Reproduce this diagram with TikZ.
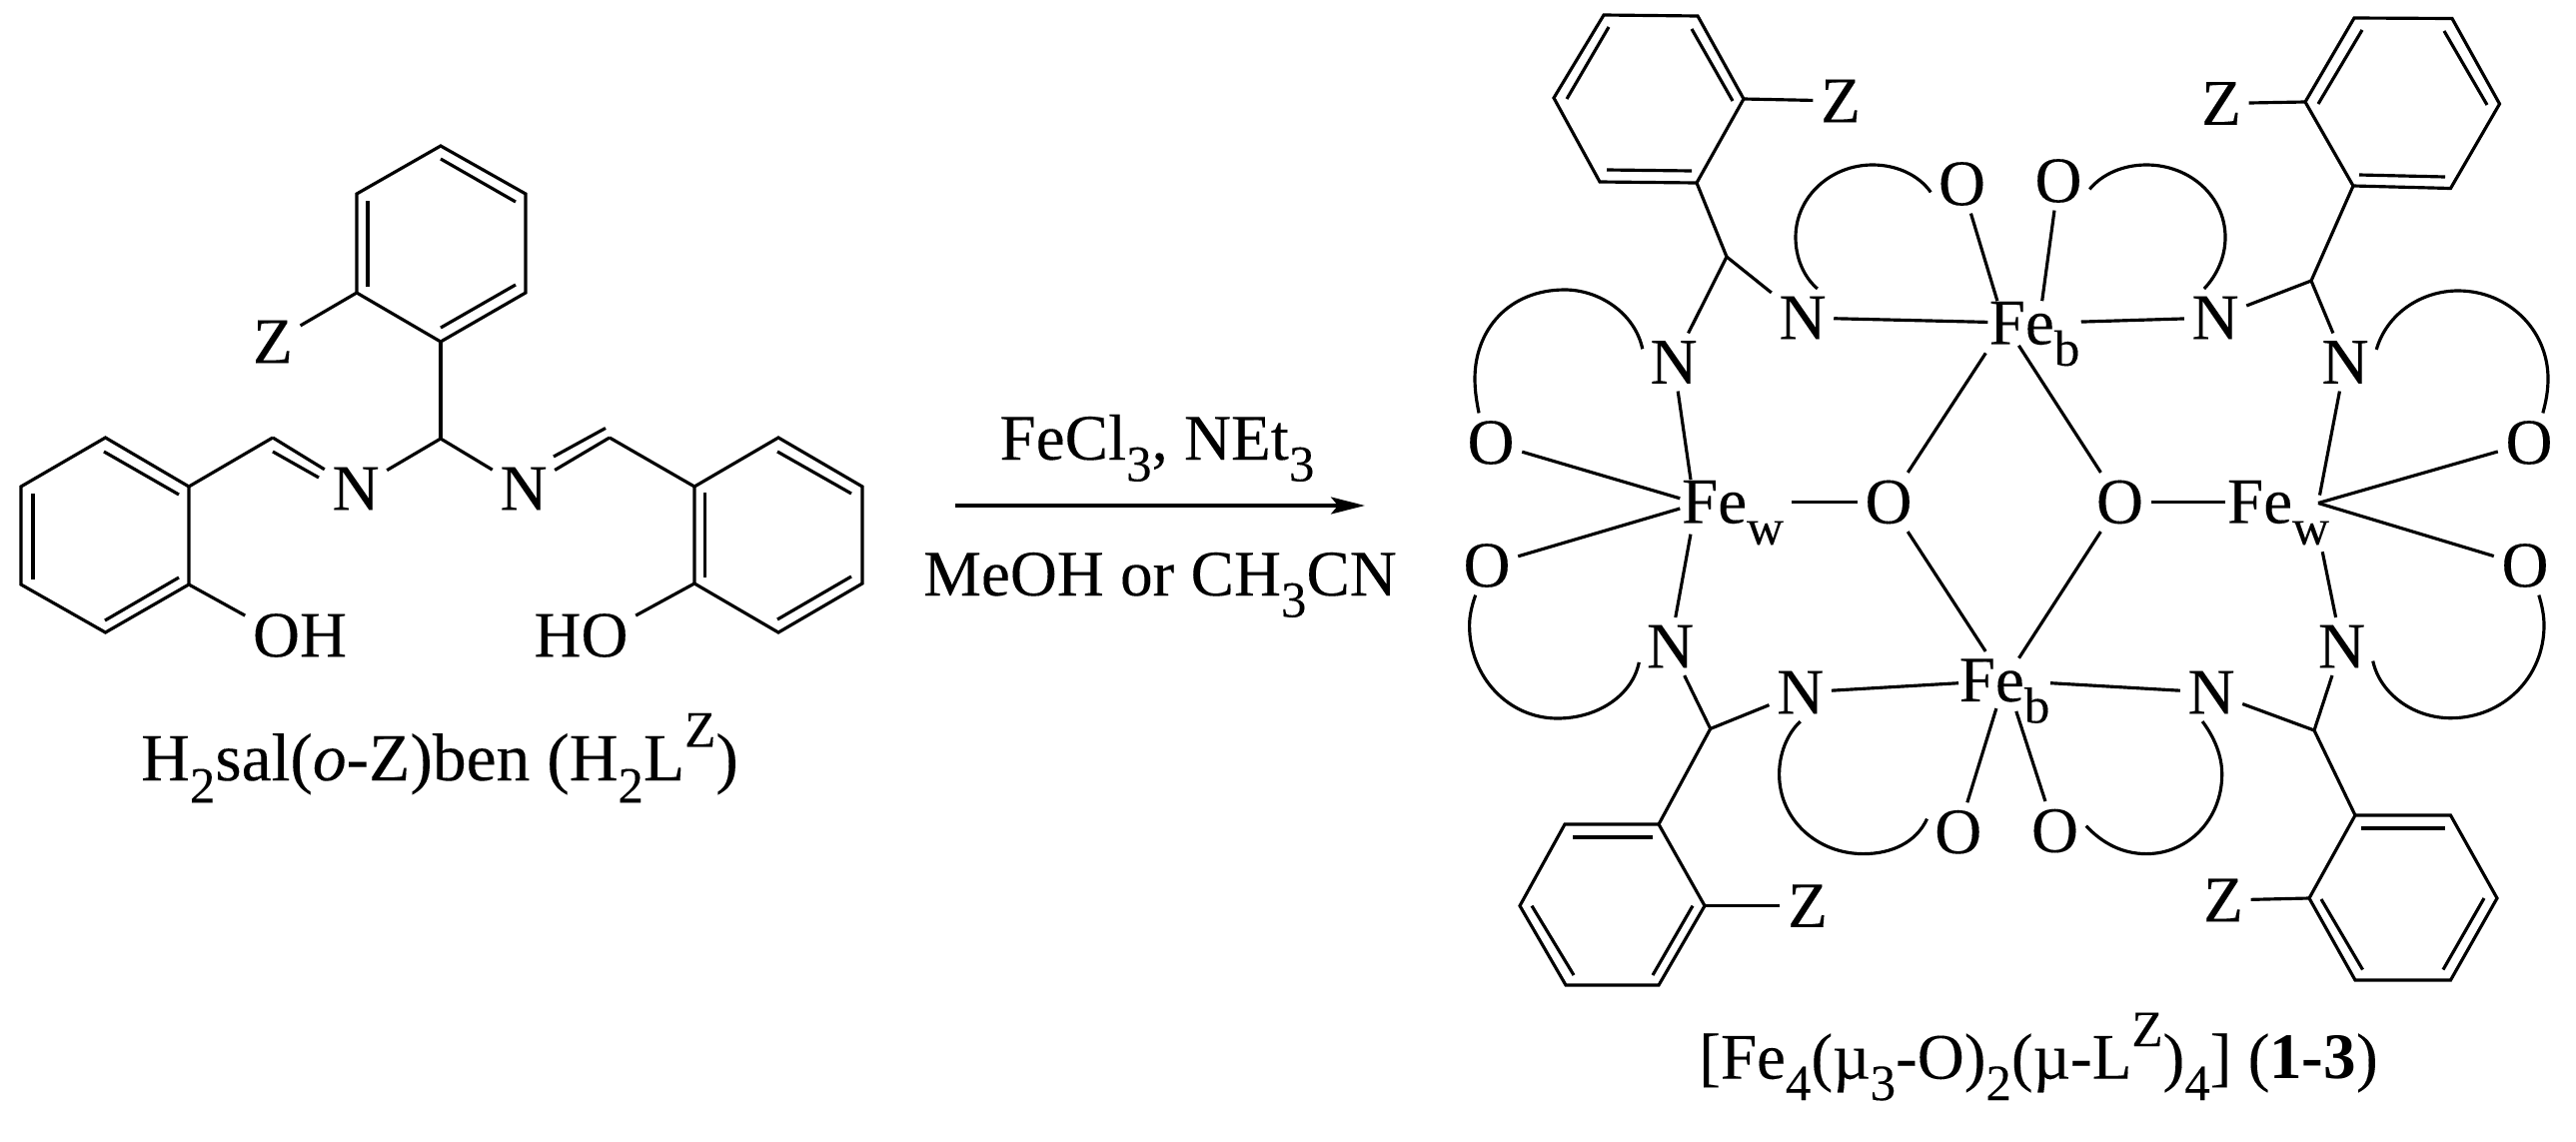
\documentclass[tikz,border=0pt]{standalone}
\usepackage{fontspec}
\setmainfont{Liberation Serif}[FakeBold=0.12, BoldFeatures={FakeBold=0}]
\usetikzlibrary{arrows.meta}
\newcommand{\sbs}[1]{\raisebox{-0.33em}[0pt][0pt]{\fontsize{14.5}{15}\selectfont #1}}
\newcommand{\sps}[1]{\raisebox{0.5em}[0pt][0pt]{\fontsize{14.5}{15}\selectfont #1}}
\tikzstyle{bond} = [draw, line width=0.9pt]
\tikzstyle{inner} = [draw, line width=0.9pt]
\tikzstyle{atom} = [inner sep=2pt, font=\fontsize{18.5}{22}\selectfont]
\tikzstyle{fe} = [inner sep=0pt, align=center, font=\fontsize{18.5}{22}\selectfont]
\tikzstyle{label} = [inner sep=0pt, anchor=base, font=\fontsize{18.5}{22}\selectfont]
\tikzstyle{line} = [draw, line width=0.9pt, -{Stealth[length=3.4mm,width=1.7mm,inset=0.7mm]}]

\begin{document}
\begin{tikzpicture}[x=0.01cm, y=-0.01cm]
	\useasboundingbox (0, 0) rectangle (2578, 1142);

	% free ligand
	\node[atom] (Nl) at (356, 489) {N};
	\node[atom] (Nr) at (524, 489) {N};
	\node[atom] (Zl) at (273, 342) {Z};
	\node[atom] (OHl) at (300, 636) {OH};
	\node[atom] (OHr) at (581.5, 636) {HO};
	\coordinate (Cc) at (441, 439);
	\coordinate (Cl) at (273, 438);
	\coordinate (Cr) at (610, 438);

	\draw[bond] (441, 146) -- (526, 194) -- (526, 293) -- (441, 342) coordinate (Rt) -- (357, 293) coordinate (Rz) -- (357, 194) -- cycle;
	\draw[inner] (441, 159) -- (516, 202);
	\draw[inner] (368, 201) -- (368, 287);
	\draw[inner] (516, 285) -- (441, 328);
	\draw[bond] (21, 487) -- (105.5, 438) -- (189, 487) coordinate (La) -- (189, 585) coordinate (Lb) -- (105.5, 633) -- (21, 585) -- cycle;
	\draw[inner] (104, 452) -- (179, 495);
	\draw[inner] (33, 494) -- (33, 580);
	\draw[inner] (105, 621) -- (179, 578);
	\draw[bond] (695, 487) coordinate (Ra) -- (779, 438) -- (863, 487) -- (863, 584) -- (779, 633) -- (695, 584) coordinate (Rb) -- cycle;
	\draw[inner] (705.5, 493) -- (705.5, 578);
	\draw[inner] (778, 452) -- (852, 494);
	\draw[inner] (852, 577) -- (778, 620);

	\draw[bond] (Rt) -- (Cc);
	\draw[bond] (Rz) -- (Zl);
	\draw[bond] (Nl) -- (Cc);
	\draw[bond] (Nr) -- (Cc);
	\draw[bond] (La) -- (Cl);
	\draw[bond] (Cl) -- (Nl);
	\draw[inner] (273, 452) -- (319, 478);
	\draw[bond] (Ra) -- (Cr);
	\draw[bond] (Cr) -- (Nr);
	\draw[inner] (606, 428.5) -- (554, 457);
	\draw[bond] (Lb) -- (OHl.160);
	\draw[bond] (Rb) -- (OHr.20);
	\node[label, font=\fontsize{19.2}{22}\selectfont] (capl) at (440, 781) {H\sbs{2}sal(\textit{o}-Z)ben (H\sbs{2}L\sps{Z})};

	% reaction arrow
	\node[label] (top) at (1158, 460) {FeCl\sbs{3}, NEt\sbs{3}};
	\node[label] (bot) at (1161, 596) {MeOH or CH\sbs{3}CN};
	\coordinate (as) at (956, 506);
	\coordinate (ae) at (1366, 506);
	\path [line] (as) -- (ae);

	% cluster core
	\node[fe, minimum width=1.04cm] (FewL) at (1734, 502.5) {Fe\sbs{w}};
	\node[fe, minimum width=1.04cm] (FewR) at (2280, 502.5) {Fe\sbs{w}};
	\node[fe, minimum width=0.92cm] (FebT) at (2036, 323.5) {Fe\sbs{b}};
	\node[fe, minimum width=0.89cm] (FebB) at (2006, 681) {Fe\sbs{b}};
	\node[atom] (OcL) at (1890, 502.5) {O};
	\node[atom] (OcR) at (2121.5, 502.5) {O};
	\coordinate (vtx) at (2320, 503.5);

	\draw[bond, shorten <=0.6mm] (FewL) -- (OcL);
	\draw[bond] (OcR) -- (FewR);
	\draw[bond, shorten >=0.9mm] (OcL) -- (FebT.207);
	\draw[bond] (OcR) -- (FebT.235);
	\draw[bond, shorten >=0.8mm] (OcL) -- (FebB.123);
	\draw[bond] (OcR) -- (FebB.57);

	% top left
	\node[atom] (Na) at (1804, 318) {N};
	\node[atom] (Nb) at (1675, 362.5) {N};
	\node[atom] (Oa) at (1963.5, 184) {O};
	\node[atom] (Ob) at (1492, 443) {O};
	\node[atom] (Za) at (1842, 101) {Z};
	\coordinate (Ca) at (1728, 257);
	\draw[bond] (1605, 15) -- (1699, 16) -- (1745, 99) coordinate (Ra1) -- (1698, 183) coordinate (Ra2) -- (1601, 182) -- (1555, 98) -- cycle;
	\draw[inner] (1610, 27) -- (1568, 99);
	\draw[inner] (1693, 29) -- (1734, 101);
	\draw[inner] (1608, 170) -- (1693, 171);
	\draw[bond] (Ra1) -- (Za);
	\draw[bond] (Ra2) -- (Ca);
	\draw[bond] (Ca) -- (Na);
	\draw[bond] (Ca) -- (Nb);
	\draw[bond] (Na) -- (FebT);
	\draw[bond] (Oa) -- (FebT.149);
	\draw[bond] (Nb) -- (FewL.152);
	\draw[bond] (Ob) -- (FewL.176);
	\draw[bond] (Na.63) .. controls (1805, 277) and (1797, 258) .. (1797, 237.5) .. controls (1797, 197) and (1832, 165) .. (1874, 165) .. controls (1898, 165) and (1920, 175) .. (Oa.195);
	\draw[bond] (Nb.157) .. controls (1636, 313) and (1600, 290) .. (1566, 290) .. controls (1510, 290) and (1476, 330) .. (1476, 379) .. controls (1476, 392) and (1478, 403) .. (Ob.112);

	% top right
	\node[atom] (Nc) at (2217, 318) {N};
	\node[atom] (Nd) at (2347, 362.5) {N};
	\node[atom] (Oc) at (2060, 181) {O};
	\node[atom] (Od) at (2531, 443) {O};
	\node[atom] (Zb) at (2223, 103.5) {Z};
	\coordinate (Cb) at (2313, 281);
	\draw[bond] (2356, 18) -- (2454, 18.5) -- (2501.5, 104) -- (2452.5, 188.5) -- (2355, 186) coordinate (Rb2) -- (2307, 102) coordinate (Rb1) -- cycle;
	\draw[inner] (2364, 30) -- (2320, 104);
	\draw[inner] (2446, 31) -- (2489, 105);
	\draw[inner] (2361, 175) -- (2447, 177);
	\draw[bond] (Rb1) -- (Zb);
	\draw[bond] (Rb2) -- (Cb);
	\draw[bond] (Cb) -- (Nc);
	\draw[bond] (Cb) -- (Nd);
	\draw[bond] (FebT) -- (Nc);
	\draw[bond] (Oc) -- (FebT.71);
	\draw[bond, shorten >=0.8mm] (Nd) -- (vtx);
	\draw[bond] (Od) -- (vtx);
	\draw[bond] (Nc.111) .. controls (2219, 275) and (2227, 257) .. (2227, 237.5) .. controls (2227, 197) and (2192, 165) .. (2148, 165) .. controls (2125, 165) and (2104, 174) .. (Oc.345);
	\draw[bond] (Nd.22) .. controls (2389, 313) and (2424, 291) .. (2460, 291) .. controls (2510, 291) and (2550, 330) .. (2550, 379) .. controls (2550, 391) and (2548, 402) .. (Od.65);

	% bottom left
	\node[atom] (Ne) at (1801.7, 693) {N};
	\node[atom] (Nf) at (1671.5, 647) {N};
	\node[atom] (Oe) at (1959.7, 832.8) {O};
	\node[atom] (Of) at (1488, 566) {O};
	\node[atom] (Zc) at (1809, 906.6) {Z};
	\coordinate (Cd) at (1711.7, 729.4);
	\draw[bond] (1660, 825) coordinate (Rc2) -- (1566, 825) -- (1521, 906.6) -- (1567, 986) -- (1660, 986) -- (1706, 906.6) coordinate (Rc1) -- cycle;
	\draw[inner] (1574, 838) -- (1654, 838);
	\draw[inner] (1533, 906.6) -- (1575, 976);
	\draw[inner] (1694, 906.6) -- (1654, 976);
	\draw[bond] (Rc1) -- (Zc);
	\draw[bond] (Rc2) -- (Cd);
	\draw[bond] (Cd) -- (Ne);
	\draw[bond] (Cd) -- (Nf);
	\draw[bond] (Ne) -- (FebB);
	\draw[bond, shorten >=0.6mm] (Oe) -- (FebB.254);
	\draw[bond, shorten >=1mm] (Nf) -- (FewL.209);
	\draw[bond] (Of) -- (FewL.187);
	\draw[bond] (Ne.270) .. controls (1788, 735) and (1780.6, 755) .. (1780.6, 775) .. controls (1780.6, 820) and (1818, 854.6) .. (1865, 854.6) .. controls (1893, 854.6) and (1918, 843) .. (Oe.157);
	\draw[bond] (Nf.207) .. controls (1634, 695) and (1600, 719) .. (1558.6, 719) .. controls (1510, 719) and (1470.6, 678) .. (1470.6, 626) .. controls (1470.6, 616) and (1473, 606) .. (Of.249);

	% bottom right
	\node[atom] (Ng) at (2213, 693) {N};
	\node[atom] (Nh) at (2343.5, 647) {N};
	\node[atom] (Og) at (2056.5, 831.6) {O};
	\node[atom] (Oh) at (2527, 566) {O};
	\node[atom] (Zd) at (2225, 901) {Z};
	\coordinate (Ce) at (2316, 731);
	\draw[bond] (2357, 816) coordinate (Rd2) -- (2452.5, 816) -- (2499, 899) -- (2452.5, 981) -- (2357, 981) -- (2311, 899) coordinate (Rd1) -- cycle;
	\draw[inner] (2363, 829) -- (2447, 829);
	\draw[inner] (2323, 900) -- (2364.5, 970.5);
	\draw[inner] (2486, 899) -- (2445, 970.5);
	\draw[bond] (Rd1) -- (Zd);
	\draw[bond] (Rd2) -- (Ce);
	\draw[bond] (Ce) -- (Ng);
	\draw[bond] (Ce) -- (Nh);
	\draw[bond] (FebB) -- (Ng);
	\draw[bond, shorten >=0.9mm] (Og) -- (FebB.292);
	\draw[bond, shorten >=2.8mm] (Nh) -- (FewR.330);
	\draw[bond] (Oh) -- (vtx);
	\draw[bond] (Ng.253) .. controls (2216, 738) and (2223.7, 756) .. (2223.7, 775) .. controls (2223.7, 820) and (2190, 854.6) .. (2148, 854.6) .. controls (2124, 854.6) and (2104, 844) .. (Og.9);
	\draw[bond] (Nh.335) .. controls (2382, 695) and (2416, 718.7) .. (2452.6, 718.7) .. controls (2505, 718.7) and (2546, 678) .. (2546, 626) .. controls (2546, 616) and (2544, 606) .. (Oh.295);

	\node[label] (capr) at (2040, 1079.6) {[Fe\sbs{4}(µ\sbs{3}-O)\sbs{2}(µ-L\sps{Z})\sbs{4}] (\textbf{1-3})};
\end{tikzpicture}
\end{document}
